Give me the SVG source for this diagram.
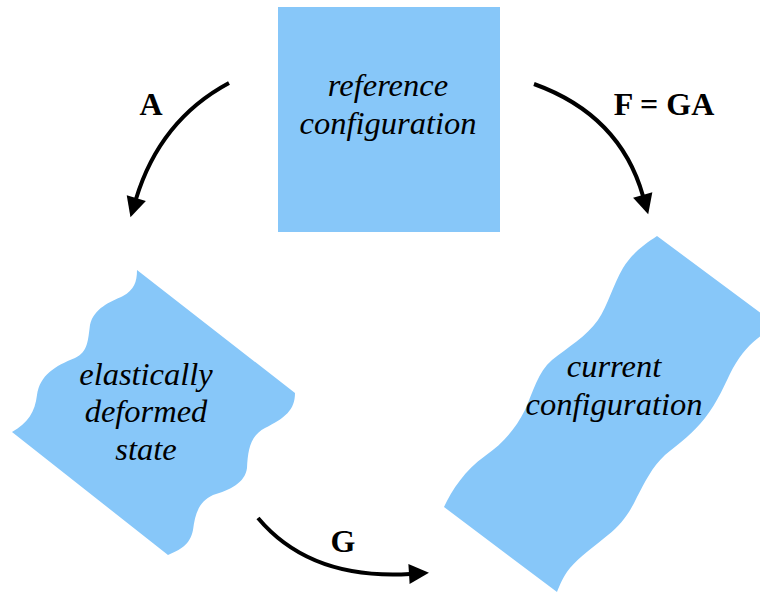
<svg xmlns="http://www.w3.org/2000/svg" width="760" height="593" viewBox="0 0 760 593">
<style>
.shape{fill:#87C7F9;stroke:none}
.lbl{font-family:"Liberation Serif","Times New Roman",serif;font-style:italic;font-size:32.5px;fill:#000;text-anchor:middle}
.op{font-family:"Liberation Serif","Times New Roman",serif;font-weight:bold;font-size:32px;fill:#000;text-anchor:middle}
.conn{fill:none;stroke:#000;stroke-width:4}
</style>
<defs>
<marker id="ah" markerUnits="userSpaceOnUse" markerWidth="24" markerHeight="24" viewBox="0 -12 22 24" refX="1" refY="0" orient="auto">
<path d="M0,-10 L20,0 L0,10 z" fill="#000"/>
</marker>
</defs>
<rect width="760" height="593" fill="#fff"/>
<g id="reference">
<rect class="shape" x="278" y="7" width="222" height="225"/>
<text class="lbl" x="388" y="96">reference</text>
<text class="lbl" x="388" y="134">configuration</text>
</g>
<g id="elastic">
<path class="shape" d="M137,270 L295,393 C295,410 285,418 265,428 C250,436 248,450 247,468 C245,483 230,490 213,495 C198,502 195,515 193,530 C190,545 180,550 168,555 L12,432 C28,423 35,412 37,395 C40,375 55,366 75,358 C88,352 88,340 90,325 C94,308 110,302 123,296 C134,290 137,282 137,270 Z"/>
<text class="lbl" x="146" y="385">elastically</text>
<text class="lbl" x="146" y="422">deformed</text>
<text class="lbl" x="146" y="460">state</text>
</g>
<g id="current">
<path class="shape" d="M657,236 L762,314 L762,335 C752,342 742,352 733,368 C725,383 718,402 705,418 C693,433 680,443 665,455 C652,467 645,482 637,497 C630,512 622,524 608,535 C594,547 580,556 570,568 C562,578 560,585 557,592 L444,507 C452,490 465,470 485,456 C502,444 515,430 525,410 C533,392 538,372 552,360 C568,347 586,337 598,320 C608,305 613,285 623,268 C633,252 645,244 657,236 Z"/>
<text class="lbl" x="614" y="377">current</text>
<text class="lbl" x="614" y="415">configuration</text>
</g>
<g id="connectors">
<path class="conn" d="M229,83 Q160,120 136,199" marker-end="url(#ah)"/>
<path class="conn" d="M534,84 Q620,115 643,196" marker-end="url(#ah)"/>
<path class="conn" d="M258,518 Q310,580 410,574" marker-end="url(#ah)"/>
<text class="op" x="151" y="115">A</text>
<text class="op" x="664" y="115">F = GA</text>
<text class="op" x="343" y="552">G</text>
</g>
</svg>
